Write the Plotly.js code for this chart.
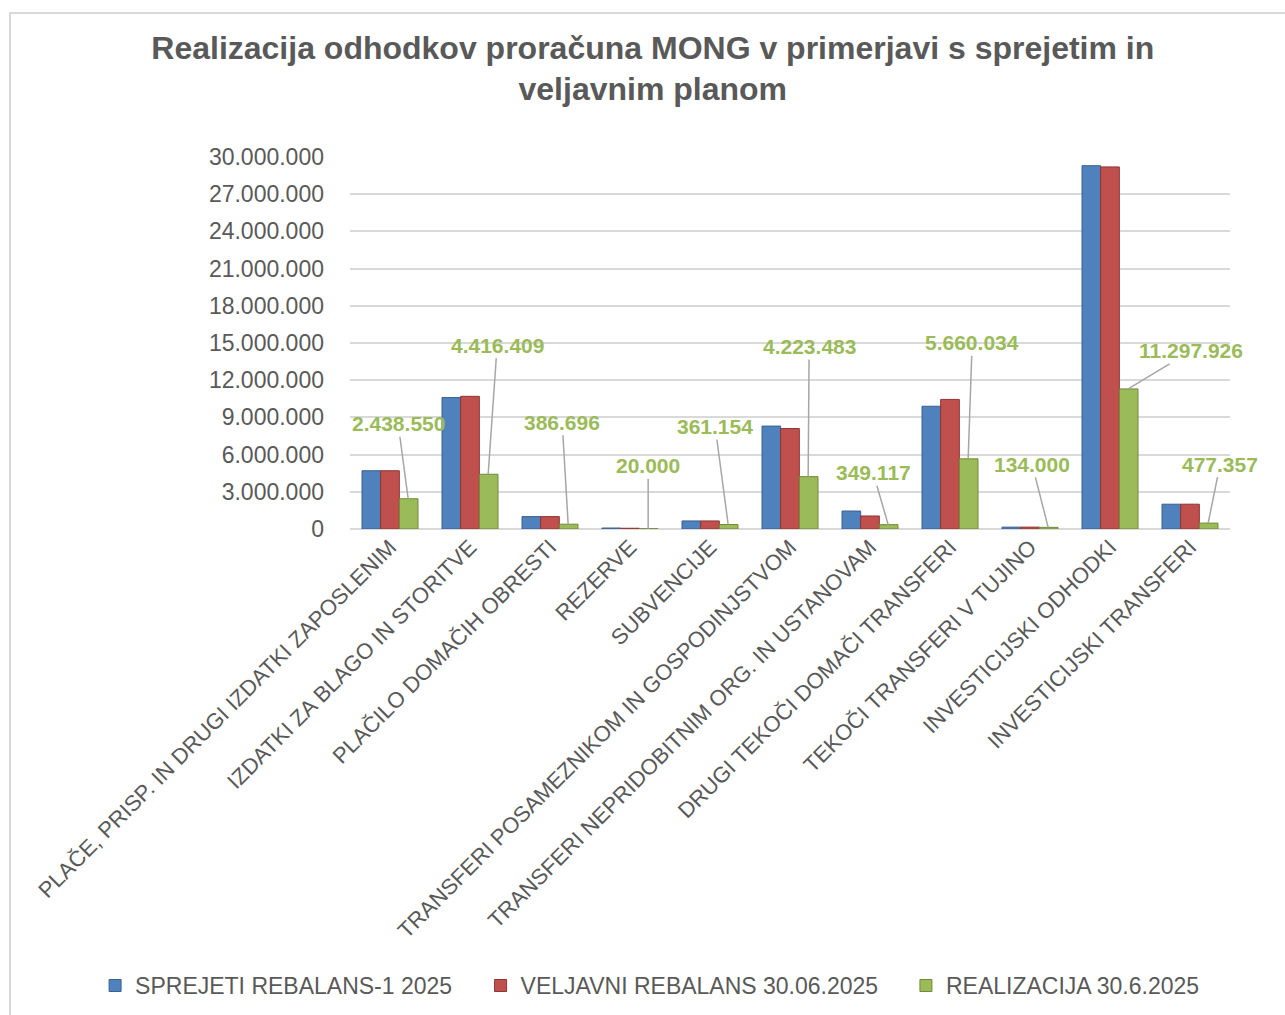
<!DOCTYPE html>
<html>
<head>
<meta charset="utf-8">
<script src="https://cdn.plot.ly/plotly-3.0.1.min.js"></script>
<style>
  html, body { margin: 0; padding: 0; background: #ffffff; }
  #wrap { position: relative; width: 1285px; height: 1015px; overflow: hidden; }
  #chart { position: absolute; left: 0; top: 0; width: 1285px; height: 1015px; }
  #frame { position: absolute; left: 9px; top: 12px; width: 1290px; height: 1020px;
           border-left: 2px solid #d9d9d9; border-top: 2px solid #d9d9d9; pointer-events: none; }
</style>
</head>
<body>
<div id="wrap">
  <div id="chart"></div>
  <div id="frame"></div>
</div>
<script>
// ---- data ----
const categories = [
  "PLAČE, PRISP. IN DRUGI IZDATKI ZAPOSLENIM",
  "IZDATKI ZA BLAGO IN STORITVE",
  "PLAČILO DOMAČIH OBRESTI",
  "REZERVE",
  "SUBVENCIJE",
  "TRANSFERI POSAMEZNIKOM IN GOSPODINJSTVOM",
  "TRANSFERI NEPRIDOBITNIM ORG. IN USTANOVAM",
  "DRUGI TEKOČI DOMAČI TRANSFERI",
  "TEKOČI TRANSFERI V TUJINO",
  "INVESTICIJSKI ODHODKI",
  "INVESTICIJSKI TRANSFERI"
];
const seriesNames = ["SPREJETI REBALANS-1 2025", "VELJAVNI REBALANS 30.06.2025", "REALIZACIJA 30.6.2025"];
const sprejeti = [4700000, 10600000, 1000000, 80000, 650000, 8300000, 1450000, 9900000, 150000, 29300000, 2000000];
const veljavni = [4700000, 10700000, 1000000, 60000, 650000, 8100000, 1050000, 10450000, 150000, 29200000, 2000000];
const realizacija = [2438550, 4416409, 386696, 20000, 361154, 4223483, 349117, 5660034, 134000, 11297926, 477357];
const yTickVals = [0, 3000000, 6000000, 9000000, 12000000, 15000000, 18000000, 21000000, 24000000, 27000000, 30000000];

// ---- label offsets (pixels from bar top to label centre) ----
const labelDX = [-10, 9, -6, 0, -13, 1, -15, 4, -16, 63, 12];
const labelDY = [-75, -129, -102, -63, -98, -130, -52, -116, -63, -38, -59];
// legend left positions (container fraction)
const legendX = [0.074, 0.374, 0.705];

function fmt(v) {
  return String(Math.round(v)).replace(/\B(?=(\d{3})+(?!\d))/g, ".");
}

const colors = ["#4f81bd", "#c0504d", "#9bbb59"];
const lineColors = ["#3a6190", "#8e3533", "#6f8a3c"];
const vals = [sprejeti, veljavni, realizacija];
const legendIds = ["legend", "legend2", "legend3"];

const traces = vals.map((v, i) => ({
  type: "bar",
  name: seriesNames[i],
  x: categories,
  y: v,
  legend: legendIds[i],
  marker: { color: colors[i], line: { color: lineColors[i], width: 1 } },
  hoverinfo: "skip"
}));

const greenOffset = 0.227;
const annotations = realizacija.map((v, i) => ({
  x: i + greenOffset,
  y: v,
  xref: "x",
  yref: "y",
  text: "<b>" + fmt(v) + "</b>",
  showarrow: true,
  arrowhead: 0,
  arrowwidth: 1.5,
  arrowcolor: "#a6a6a6",
  ax: labelDX[i],
  ay: labelDY[i],
  standoff: 0,
  startstandoff: 0,
  font: { family: "Liberation Sans, Arial, sans-serif", size: 21, color: "#9bbb59" }
}));

function legendDef(x) {
  return {
    orientation: "h",
    xref: "container",
    yref: "container",
    x: x, xanchor: "left",
    y: 0.029, yanchor: "middle",
    bgcolor: "rgba(0,0,0,0)",
    font: { size: 23, color: "#595959", family: "Liberation Sans, Arial, sans-serif" },
    itemwidth: 30
  };
}

const layout = {
  width: 1285,
  height: 1015,
  paper_bgcolor: "rgba(0,0,0,0)",
  plot_bgcolor: "rgba(0,0,0,0)",
  font: { family: "Liberation Sans, Arial, sans-serif", color: "#595959" },
  separators: ",.",
  title: {
    text: "<b>Realizacija odhodkov proračuna MONG v primerjavi s sprejetim in<br>veljavnim planom</b>",
    font: { size: 32, color: "#595959", family: "Liberation Sans, Arial, sans-serif" },
    x: 0.508, xanchor: "center",
    y: 0.942, yanchor: "top"
  },
  margin: { l: 350, r: 55, t: 157, b: 486 },
  barmode: "group",
  bargap: 0.3,
  bargroupgap: 0,
  xaxis: {
    type: "category",
    tickangle: -45,
    tickfont: { size: 22, color: "#595959" },
    showgrid: false,
    zeroline: false,
    showline: false,
    ticks: "",
    range: [-0.5, 10.5],
    fixedrange: true
  },
  yaxis: {
    range: [0, 30000000],
    tickvals: yTickVals,
    tickformat: ",d",
    tickfont: { size: 23, color: "#595959" },
    ticklabelstandoff: 25,
    showgrid: true,
    gridcolor: "#d9d9d9",
    gridwidth: 2,
    zeroline: true,
    zerolinecolor: "#d9d9d9",
    zerolinewidth: 2,
    showline: false,
    ticks: "",
    fixedrange: true
  },
  legend: legendDef(legendX[0]),
  legend2: legendDef(legendX[1]),
  legend3: legendDef(legendX[2]),
  annotations: annotations,
  showlegend: true
};

Plotly.newPlot("chart", traces, layout, { displayModeBar: false, staticPlot: true });
</script>
</body>
</html>
